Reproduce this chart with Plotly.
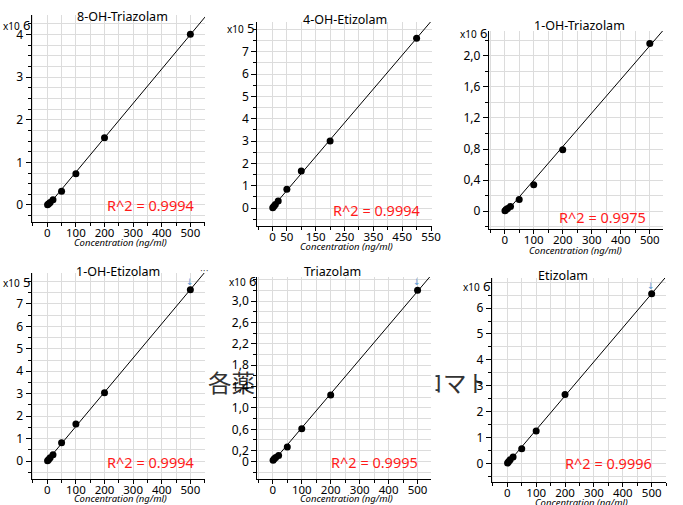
import numpy as np
import plotly.graph_objects as go

# ---------------- data ----------------
conc = [1, 5, 10, 20, 50, 100, 200, 500]
titles = ["8-OH-Triazolam", "4-OH-Etizolam", "1-OH-Triazolam",
          "1-OH-Etizolam", "Triazolam", "Etizolam"]
oh8_triazolam = [0.005, 0.03, 0.06, 0.12, 0.32, 0.73, 1.58, 4.01]   # x10^6
oh4_etizolam = [0.02, 0.08, 0.16, 0.32, 0.84, 1.66, 3.00, 7.60]     # x10^5
oh1_triazolam = [0.005, 0.02, 0.035, 0.06, 0.15, 0.34, 0.79, 2.16]  # x10^6
oh1_etizolam = [0.01, 0.07, 0.15, 0.28, 0.82, 1.65, 3.04, 7.63]     # x10^5
triazolam = [0.02, 0.05, 0.07, 0.11, 0.27, 0.61, 1.24, 3.20]        # x10^6
etizolam = [0.02, 0.08, 0.15, 0.25, 0.57, 1.26, 2.67, 6.55]         # x10^6
series = [oh8_triazolam, oh4_etizolam, oh1_triazolam, oh1_etizolam, triazolam, etizolam]
r2_labels = ["R^2 = 0.9994", "R^2 = 0.9994", "R^2 = 0.9975",
             "R^2 = 0.9994", "R^2 = 0.9995", "R^2 = 0.9996"]
exponents = ["6", "5", "6", "5", "6", "6"]
x_tickvals_std = [0, 100, 200, 300, 400, 500]
x_tickvals_p2 = [0, 50, 150, 250, 350, 450, 550]
y_tickvals = [
    [0, 1, 2, 3, 4],
    [0, 1, 2, 3, 4, 5, 6, 7],
    [0, 0.4, 0.8, 1.2, 1.6, 2.0],
    [0, 1, 2, 3, 4, 5, 6, 7],
    [0, 0.2, 0.6, 1.0, 1.4, 1.8, 2.2, 2.6, 3.0],
    [0, 1, 2, 3, 4, 5, 6],
]
y_ticktext = [
    ["0", "1", "2", "3", "4"],
    ["0", "1", "2", "3", "4", "5", "6", "7"],
    ["0", "0,4", "0,8", "1,2", "1,6", "2,0"],
    ["0", "1", "2", "3", "4", "5", "6", "7"],
    ["0", "0,2", "0,6", "1,0", "1,4", "1,8", "2,2", "2,6", "3,0"],
    ["0", "1", "2", "3", "4", "5", "6"],
]
overlay_text = "各薬の抽出イオンクロマト"

# ---------------- layout geometry (pixels) ----------------
W, H = 683, 505
def px(x): return x / W
def py(y): return 1 - y / H

# plot area boxes: left, right, top, bottom (px)
boxes = [(32, 208, 15, 222), (261, 438, 22, 226), (496, 673, 31, 229),
         (32, 208, 273, 479), (261, 437, 277, 479), (499, 676, 278, 482)]
# occluding panel extents (slightly wider than plot areas, like pasted images)
occluders = [(32, 208, 15, 222), (261, 438, 22, 226), (496, 673, 31, 229),
             (32, 208, 273, 479), (261, 442, 277, 479), (489, 676, 278, 482)]
xranges = [[-55, 551], [-53, 552], [-55, 546], [-55, 551], [-54, 545], [-54, 550]]
yranges = [[-0.4, 4.46], [-0.8, 8.33], [-0.23, 2.32], [-0.8, 8.38], [-0.33, 3.45], [-0.71, 7.16]]
y_minor = [0.25, 0.5, 0.2, 0.5, 0.2, 0.5]
title_pos = [(124, 16), (350, 19), (588, 25), (120, 271), (337, 271), (571, 275)]
exp_pos = [(33, 25), (261, 28), (497, 33), (33, 282), (263, 281), (500, 286)]
r2_pos = [(199, 205), (428, 210), (658, 217), (199, 462), (426, 462), (664, 463)]
xt_pos = [(122, 242), (352, 246), (584, 250), (122, 498), (352, 498), (590, 502)]
arrow_pos = [None, None, None, (193, 282), (423, 282), (661, 286)]

grid_c = "#dcdcdc"
font_fam = "Noto Sans"

fig = go.Figure()
annotations = []
layout_axes = {}
shapes = [dict(type="rect", xref="paper", yref="paper",
               x0=px(208), x1=px(500), y0=py(398), y1=py(372),
               line=dict(width=0), fillcolor="rgba(0,0,0,0)", layer="below",
               label=dict(text=overlay_text, textposition="middle left", padding=0,
                          font=dict(family="Noto Sans CJK JP", size=23.5, color="#333")))]

for i in range(6):
    k = "" if i == 0 else str(i + 1)
    l, r, t, b = boxes[i]
    yv = series[i]
    slope, icpt = np.polyfit(conc, yv, 1)
    xl = np.array([0, xranges[i][1] + 10])
    fig.add_trace(go.Scatter(x=xl, y=slope * xl + icpt, mode="lines",
                             line=dict(color="black", width=1),
                             xaxis="x" + k, yaxis="y" + k, showlegend=False,
                             hoverinfo="skip"))
    fig.add_trace(go.Scatter(x=conc, y=yv, mode="markers",
                             marker=dict(color="black", size=7),
                             xaxis="x" + k, yaxis="y" + k, showlegend=False))

    xa = dict(domain=[px(l), px(r)], range=xranges[i], anchor="y" + k,
              showline=True, linecolor="black", linewidth=1,
              ticks="outside", ticklen=4, tickcolor="black", ticklabelstandoff=-4,
              showgrid=True, gridcolor=grid_c, gridwidth=1, zeroline=False,
              tickfont=dict(family=font_fam, size=11.5, color="black"),
              tickmode="array",
              tickvals=x_tickvals_p2 if i == 1 else x_tickvals_std,
              minor=dict(dtick=50, tick0=0, showgrid=True, gridcolor=grid_c,
                         ticks="outside", ticklen=3, tickcolor="black"))
    ya = dict(domain=[py(b), py(t)], range=yranges[i], anchor="x" + k,
              showline=True, linecolor="black", linewidth=1,
              ticks="outside", ticklen=5, tickcolor="black",
              showgrid=True, gridcolor=grid_c, gridwidth=1, zeroline=False,
              tickfont=dict(family=font_fam, size=12, color="black"),
              tickmode="array", tickvals=y_tickvals[i], ticktext=y_ticktext[i],
              minor=dict(dtick=y_minor[i], tick0=0, showgrid=True, gridcolor=grid_c,
                         ticks="outside", ticklen=3, tickcolor="black"))
    layout_axes["xaxis" + k] = xa
    layout_axes["yaxis" + k] = ya

    # white panel background drawn above the overlay text (but below grid)
    ol, orr, ot, ob = occluders[i]
    shapes.append(dict(type="rect", xref="paper", yref="paper",
                       x0=px(ol), x1=px(orr), y0=py(ob), y1=py(ot),
                       line=dict(width=0), fillcolor="white", layer="below"))

    tx, ty = title_pos[i]
    annotations.append(dict(text=titles[i], x=px(tx), y=py(ty), xref="paper", yref="paper",
                            showarrow=False, xanchor="center", yanchor="middle",
                            font=dict(family=font_fam, size=12.5, color="black")))
    ex, ey = exp_pos[i]
    annotations.append(dict(text="x10<span style='font-size:13px'> " + exponents[i] + "</span>",
                            x=px(ex), y=py(ey),
                            xref="paper", yref="paper", showarrow=False,
                            xanchor="right", yanchor="middle",
                            font=dict(family=font_fam, size=10, color="black")))
    rx, ry = r2_pos[i]
    annotations.append(dict(text=r2_labels[i], x=px(rx), y=py(ry), xref="paper", yref="paper",
                            showarrow=False, xanchor="right", yanchor="middle",
                            font=dict(family=font_fam, size=14.5, color="#ff1a1a")))
    axx, axy = xt_pos[i]
    annotations.append(dict(text="<i>Concentration (ng/ml)</i>", x=px(axx), y=py(axy),
                            xref="paper", yref="paper", showarrow=False,
                            xanchor="center", yanchor="middle",
                            font=dict(family=font_fam, size=9.5, color="black")))
    if arrow_pos[i] is not None:
        arx, ary = arrow_pos[i]
        annotations.append(dict(text="↓", x=px(arx), y=py(ary), xref="paper", yref="paper",
                                showarrow=False, xanchor="center", yanchor="middle",
                                font=dict(family="DejaVu Sans", size=9, color="#5b9bd5")))

annotations.append(dict(text="···", x=px(208), y=py(271), xref="paper", yref="paper",
                        showarrow=False, xanchor="center", yanchor="middle",
                        font=dict(family="DejaVu Sans", size=9, color="#444")))

fig.update_layout(width=W, height=H, margin=dict(l=0, r=0, t=0, b=0),
                  paper_bgcolor="white", plot_bgcolor="white",
                  annotations=annotations, shapes=shapes, **layout_axes)

fig.write_html("out.html", config={"displayModeBar": False},
               post_script="document.body.style.margin='0';document.body.style.overflow='hidden';")
